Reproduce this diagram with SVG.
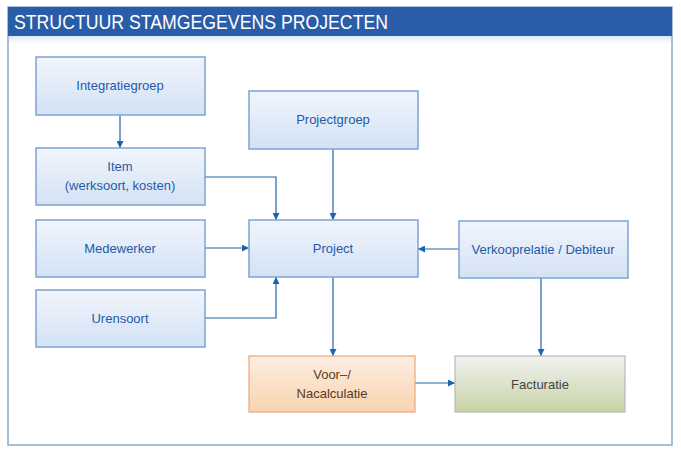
<svg xmlns="http://www.w3.org/2000/svg" width="681" height="449" viewBox="0 0 681 449">
<defs>
<linearGradient id="gb" x1="0" y1="0" x2="0" y2="1"><stop offset="0" stop-color="#f1f5fc"/><stop offset="1" stop-color="#d3e2f5"/></linearGradient>
<linearGradient id="go" x1="0" y1="0" x2="0" y2="1"><stop offset="0" stop-color="#fdeee2"/><stop offset="1" stop-color="#f8d3b0"/></linearGradient>
<linearGradient id="gg" x1="0" y1="0" x2="0" y2="1"><stop offset="0" stop-color="#f2f2f2"/><stop offset="1" stop-color="#c7d3a4"/></linearGradient>
<linearGradient id="gh" x1="0" y1="0" x2="0" y2="1"><stop offset="0" stop-color="#dce8f6"/><stop offset="1" stop-color="#ffffff"/></linearGradient>
<marker id="ar" viewBox="0 0 10 10" refX="10" refY="5" markerWidth="7" markerHeight="7" orient="auto" markerUnits="userSpaceOnUse"><path d="M0,0L10,5L0,10z" fill="#1f63b0"/></marker>
</defs>
<style>
.b{fill:url(#gb);stroke:#7ea3d3;stroke-width:1.5}
.t{font-family:"Liberation Sans Narrow","Liberation Sans",Arial,sans-serif;font-size:13px;fill:#1f5aa8;text-anchor:middle}
.c{fill:none;stroke:#1f63b0;stroke-width:1.2;marker-end:url(#ar)}
</style>
<rect x="8" y="7" width="664" height="438" fill="#fff" stroke="#8aa8d0" stroke-width="1.5"/>
<rect x="9" y="36" width="662" height="8" fill="url(#gh)"/>
<rect x="8" y="7" width="664" height="29" fill="#2a5da8"/>
<text x="14" y="29" font-family="Liberation Sans Narrow,Liberation Sans,sans-serif" font-size="20" fill="#fff" textLength="374" lengthAdjust="spacingAndGlyphs">STRUCTUUR STAMGEGEVENS PROJECTEN</text>
<g id="connectors">
<path class="c" d="M120,115V148"/>
<path class="c" d="M205,177H276V220"/>
<path class="c" d="M333,149V220"/>
<path class="c" d="M205,248H249"/>
<path class="c" d="M205,318H276V277"/>
<path class="c" d="M459,249H418"/>
<path class="c" d="M333,277V356"/>
<path class="c" d="M541,278V356"/>
<path class="c" d="M415,383H455"/>
</g>
<g id="integratiegroep"><rect class="b" x="36" y="57" width="169" height="58"/><text class="t" x="120" y="90">Integratiegroep</text></g>
<g id="item"><rect class="b" x="36" y="148" width="169" height="57"/><text class="t" x="120" y="171">Item</text><text class="t" x="120" y="190">(werksoort, kosten)</text></g>
<g id="medewerker"><rect class="b" x="36" y="220" width="169" height="57"/><text class="t" x="120" y="253">Medewerker</text></g>
<g id="urensoort"><rect class="b" x="36" y="290" width="169" height="57"/><text class="t" x="120" y="323">Urensoort</text></g>
<g id="projectgroep"><rect class="b" x="249" y="91" width="169" height="58"/><text class="t" x="333" y="124">Projectgroep</text></g>
<g id="project"><rect class="b" x="249" y="220" width="169" height="57"/><text class="t" x="333" y="253">Project</text></g>
<g id="verkooprelatie"><rect class="b" x="459" y="221" width="169" height="57"/><text class="t" x="543" y="254">Verkooprelatie / Debiteur</text></g>
<g id="calculatie"><rect x="249" y="356" width="166" height="56" fill="url(#go)" stroke="#e8a878" stroke-width="1.2"/><text class="t" x="332" y="379" fill="#5a3a1e" style="fill:#5a3a1e">Voor–/</text><text class="t" x="332" y="398" style="fill:#5a3a1e">Nacalculatie</text></g>
<g id="facturatie"><rect x="455" y="356" width="170" height="56" fill="url(#gg)" stroke="#b8b8b8" stroke-width="1.2"/><text class="t" x="540" y="389" style="fill:#444">Facturatie</text></g>
</svg>
